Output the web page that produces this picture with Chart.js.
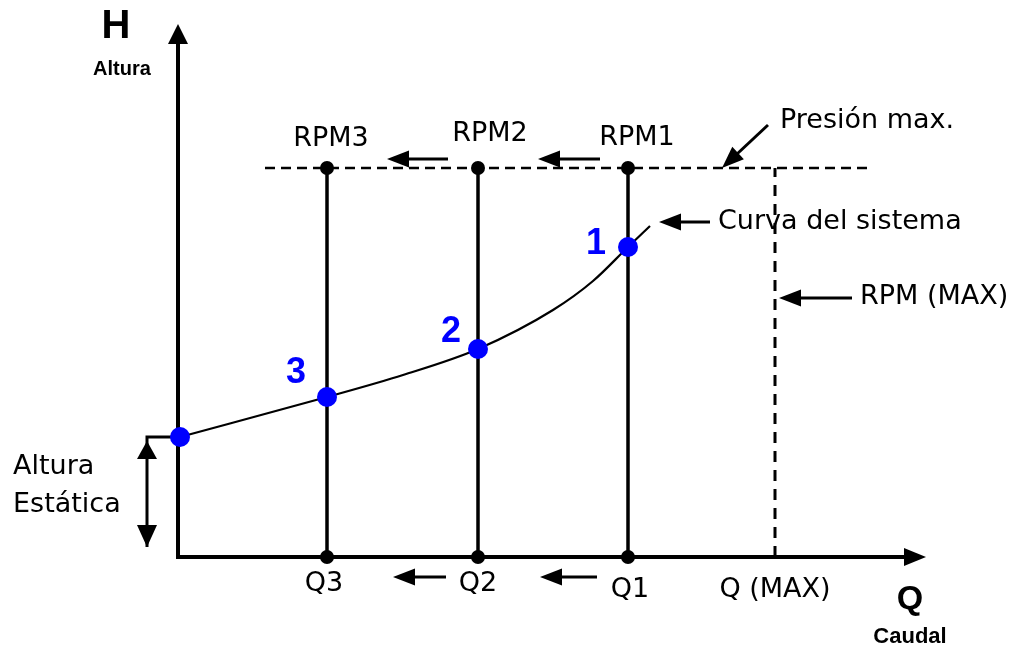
<!DOCTYPE html>
<html><head><meta charset="utf-8">
<script src="https://cdn.jsdelivr.net/npm/chart.js@4/dist/chart.umd.min.js"></script>
<style>html,body{margin:0;padding:0;background:#fff}#wrap{width:1024px;height:648px;position:relative}</style>
</head><body><div id="wrap"><canvas id="c"></canvas></div>
<script>
// ---- data (Q = caudal, H = altura) ----
const speedLabels = ['RPM3', 'RPM2', 'RPM1'];
const flowLabels = ['Q3', 'Q2', 'Q1'];
const pointLabels = ['3', '2', '1'];
const flowValues = [29.8, 60, 90];
const headValues = [32, 41.6, 62];
const staticHead = 24;
const maxPressure = 77.8;
const maxFlow = 119.4;
const curveQ = [0.4, 29.8, 45, 60, 75, 83, 90, 94.4];
const curveH = [24, 32, 36.4, 41.6, 49.4, 55.2, 62, 66.2];

// ---- layout (data units) ----
const X_MIN = -35.6, X_MAX = 169.2, Y_MIN = -18.2, Y_MAX = 111.4;
const pressureLineFrom = 17.4, pressureLineTo = 138.4;
const axisEndQ = 149.6, axisEndH = 106.6;
const staticArrowQ = -6.2;

const FONT = '"DejaVu Sans", sans-serif';
const BOLD = '"Liberation Sans", Arial, sans-serif';

const texts = [
  {t:'H', x:-12.4, y:106, font:'bold 40px ' + BOLD, align:'center'},
  {t:'Altura', x:-11.2, y:97.6, font:'bold 20px ' + BOLD, align:'center'},
  {t:'Q', x:146.4, y:-8.6, font:'bold 34px ' + BOLD, align:'center'},
  {t:'Caudal', x:146.4, y:-16, font:'bold 22px ' + BOLD, align:'center'},
  {t:'Presión max.', x:120.4, y:87.2, font:'27px ' + FONT, align:'left'},
  {t:'Curva del sistema', x:108, y:67, font:'27px ' + FONT, align:'left'},
  {t:'RPM (MAX)', x:136.4, y:52, font:'27px ' + FONT, align:'left'},
  {t:'Q (MAX)', x:maxFlow, y:-6.6, font:'27px ' + FONT, align:'center'},
  {t:'Altura', x:-33, y:18, font:'27px ' + FONT, align:'left'},
  {t:'Estática', x:-33, y:10.4, font:'27px ' + FONT, align:'left'}
];
const speedLabelPos = [[30.6, 83.6], [62.4, 84.6], [91.8, 83.8]];
const flowLabelPos = [[29.2, -5.4], [60, -5.4], [90.4, -6.6]];
const pointLabelPos = [[23.6, 36.8], [54.6, 45], [83.6, 62.6]];

const arrows = [
  {from:[54, 79.6], to:[41.8, 79.6]},
  {from:[84.4, 79.6], to:[72, 79.6]},
  {from:[53.6, -4], to:[43, -4]},
  {from:[83.8, -4], to:[72.4, -4]},
  {from:[118, 86.4], to:[108.8, 77.8]},
  {from:[106.4, 67], to:[96.2, 67]},
  {from:[134.8, 51.8], to:[120.2, 51.8]}
];

function drawArrowHead(ctx, x1, y1, x2, y2, len, half) {
  const a = Math.atan2(y2 - y1, x2 - x1);
  const c = Math.cos(a), s = Math.sin(a);
  ctx.beginPath();
  ctx.moveTo(x2, y2);
  ctx.lineTo(x2 - len * c + half * s, y2 - len * s - half * c);
  ctx.lineTo(x2 - len * c - half * s, y2 - len * s + half * c);
  ctx.closePath();
  ctx.fill();
}
function drawArrow(ctx, x1, y1, x2, y2, lw, len, half) {
  const a = Math.atan2(y2 - y1, x2 - x1);
  ctx.lineWidth = lw;
  ctx.beginPath();
  ctx.moveTo(x1, y1);
  ctx.lineTo(x2 - len * 0.7 * Math.cos(a), y2 - len * 0.7 * Math.sin(a));
  ctx.stroke();
  drawArrowHead(ctx, x1, y1, x2, y2, len, half);
}

const diagramPlugin = {
  id: 'diagram',
  beforeDatasetsDraw(chart) {
    const ctx = chart.ctx, xs = chart.scales.x, ys = chart.scales.y;
    const X = v => xs.getPixelForValue(v), Y = v => ys.getPixelForValue(v);
    ctx.save();
    ctx.strokeStyle = '#000'; ctx.fillStyle = '#000'; ctx.lineCap = 'butt';
    // axes
    drawArrow(ctx, X(0), Y(0) + 2, X(0), Y(axisEndH), 4, 20, 10);
    drawArrow(ctx, X(0) - 2, Y(0), X(axisEndQ), Y(0), 4, 22, 9);
    // static head bracket
    ctx.lineWidth = 3;
    ctx.beginPath();
    ctx.moveTo(X(curveQ[0]), Y(staticHead));
    ctx.lineTo(X(staticArrowQ), Y(staticHead));
    ctx.lineTo(X(staticArrowQ), Y(2));
    ctx.stroke();
    drawArrowHead(ctx, X(staticArrowQ), Y(10), X(staticArrowQ), Y(staticHead - 0.8), 18, 10);
    drawArrowHead(ctx, X(staticArrowQ), Y(10), X(staticArrowQ), Y(2), 22, 10);
    // small arrows
    arrows.forEach(a => drawArrow(ctx, X(a.from[0]), Y(a.from[1]), X(a.to[0]), Y(a.to[1]), 3, 22, 8.5));
    ctx.restore();
  },
  afterDatasetsDraw(chart) {
    const ctx = chart.ctx, xs = chart.scales.x, ys = chart.scales.y;
    const X = v => xs.getPixelForValue(v), Y = v => ys.getPixelForValue(v);
    ctx.save();
    ctx.textBaseline = 'middle';
    ctx.fillStyle = '#000';
    texts.forEach(o => { ctx.font = o.font; ctx.textAlign = o.align; ctx.fillText(o.t, X(o.x), Y(o.y)); });
    ctx.font = '27px ' + FONT; ctx.textAlign = 'center';
    speedLabels.forEach((t, i) => ctx.fillText(t, X(speedLabelPos[i][0]), Y(speedLabelPos[i][1])));
    flowLabels.forEach((t, i) => ctx.fillText(t, X(flowLabelPos[i][0]), Y(flowLabelPos[i][1])));
    ctx.fillStyle = '#0000ff'; ctx.font = 'bold 36px ' + BOLD;
    pointLabels.forEach((t, i) => ctx.fillText(t, X(pointLabelPos[i][0]), Y(pointLabelPos[i][1])));
    ctx.restore();
  }
};

const datasets = [];
datasets.push({
  data: [{x: curveQ[0], y: staticHead}].concat(flowValues.map((q, i) => ({x: q, y: headValues[i]}))),
  showLine: false, pointRadius: 10, pointHoverRadius: 10, pointBackgroundColor: '#0000ff',
  pointBorderWidth: 0, order: 0
});
datasets.push({
  data: curveQ.map((q, i) => ({x: q, y: curveH[i]})),
  showLine: true, borderColor: '#000', borderWidth: 2.2, pointRadius: 0,
  cubicInterpolationMode: 'monotone', order: 2
});
flowValues.forEach(q => datasets.push({
  data: [{x: q, y: 0}, {x: q, y: maxPressure}],
  showLine: true, borderColor: '#000', borderWidth: 3.5,
  pointRadius: 7, pointHoverRadius: 7, pointBackgroundColor: '#000', pointBorderWidth: 0, order: 1
}));
datasets.push({
  data: [{x: pressureLineFrom, y: maxPressure}, {x: pressureLineTo, y: maxPressure}],
  showLine: true, borderColor: '#000', borderWidth: 2.5, borderDash: [10, 6], pointRadius: 0, order: 3
});
datasets.push({
  data: [{x: maxFlow, y: 0}, {x: maxFlow, y: maxPressure}],
  showLine: true, borderColor: '#000', borderWidth: 3, borderDash: [11, 8], pointRadius: 0, order: 3
});

new Chart(document.getElementById('c'), {
  type: 'scatter',
  data: {datasets},
  options: {
    responsive: true, maintainAspectRatio: false, animation: false,
    layout: {padding: 0, autoPadding: false},
    plugins: {legend: {display: false}, tooltip: {enabled: false}},
    events: [],
    scales: {
      x: {type: 'linear', min: X_MIN, max: X_MAX, display: false},
      y: {type: 'linear', min: Y_MIN, max: Y_MAX, display: false}
    }
  },
  plugins: [diagramPlugin]
});
</script></body></html>
